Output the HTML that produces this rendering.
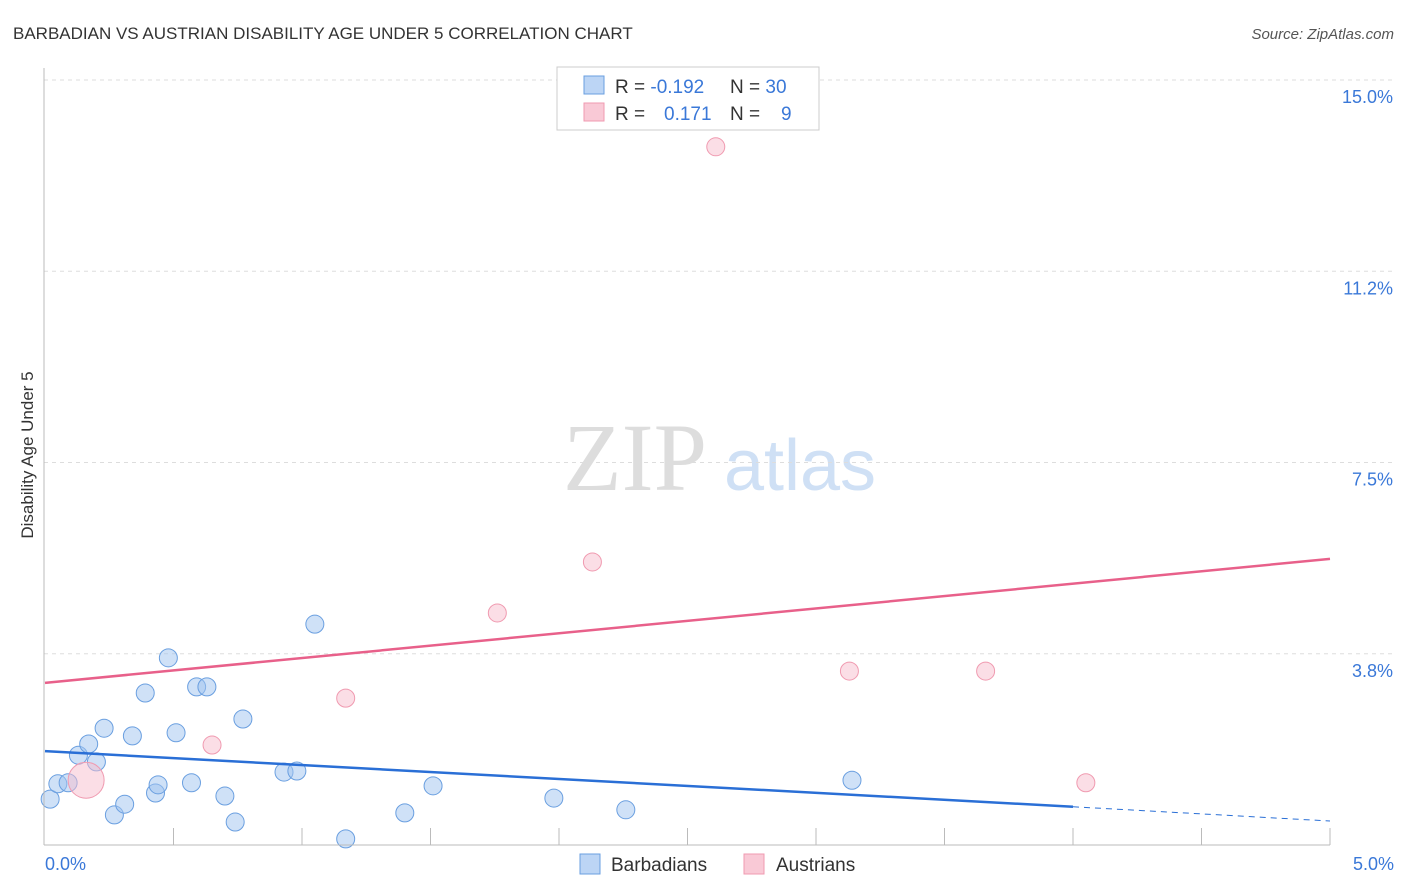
<!DOCTYPE html>
<html><head><meta charset="utf-8"><style>
body{margin:0;background:#fff;font-family:"Liberation Sans",sans-serif}
svg{display:block}
</style></head><body>
<svg width="1406" height="892" id="chart">
<text x="13" y="39" font-size="17" fill="#333">BARBADIAN VS AUSTRIAN DISABILITY AGE UNDER 5 CORRELATION CHART</text>
<text x="1394" y="39" font-size="15" fill="#555" font-style="italic" text-anchor="end">Source: ZipAtlas.com</text>
<text x="33" y="455" font-size="17" fill="#333" text-anchor="middle" transform="rotate(-90 33 455)">Disability Age Under 5</text>
<g><text x="635" y="490" font-size="96" fill="#ddd" font-family="Liberation Serif,serif" text-anchor="middle">ZIP</text><text x="800" y="490" font-size="72" fill="#cfe0f5" text-anchor="middle">atlas</text></g>
<g id="grid"></g><g id="marks"></g>
<line x1="44" y1="68" x2="44" y2="845" stroke="#bbb"/>
<line x1="44" y1="845" x2="1330" y2="845" stroke="#bbb"/>
<text x="45" y="870" font-size="18" fill="#3a78d8">0.0%</text>
<text x="1394" y="870" font-size="18" fill="#3a78d8" text-anchor="end">5.0%</text>
<g>
<rect x="557" y="67" width="262" height="63" fill="#fff" stroke="#ccc"/>
<rect x="584" y="76" width="20" height="18" fill="#bcd5f5" stroke="#6a9fe0"/>
<rect x="584" y="103" width="20" height="18" fill="#f9c9d6" stroke="#f09ab0"/>
<text x="615" y="93" font-size="19" fill="#333">R = <tspan fill="#3a78d8">-0.192</tspan><tspan x="730">N = </tspan><tspan fill="#3a78d8">30</tspan></text>
<text x="615" y="120" font-size="19" fill="#333">R = <tspan x="664" fill="#3a78d8">0.171</tspan><tspan x="730">N = </tspan><tspan x="781" fill="#3a78d8">9</tspan></text>
</g>
<g>
<rect x="580" y="854" width="20" height="20" fill="#bcd5f5" stroke="#6a9fe0"/>
<text x="611" y="871" font-size="19" fill="#333">Barbadians</text>
<rect x="744" y="854" width="20" height="20" fill="#f9c9d6" stroke="#f09ab0"/>
<text x="776" y="871" font-size="19" fill="#333">Austrians</text>
</g>
</svg>
<script>
const yTicks=[15.0,11.25,7.5,3.75];
const yTickLabels=["15.0%","11.2%","7.5%","3.8%"];
const xTicks=[0.5,1,1.5,2,2.5,3,3.5,4,4.5,5];
const blueX=[0.02,0.05,0.09,0.13,0.17,0.20,0.23,0.27,0.31,0.34,0.39,0.43,0.44,0.48,0.51,0.57,0.59,0.63,0.70,0.74,0.77,0.93,0.98,1.05,1.17,1.40,1.51,1.98,2.26,3.14];
const blueY=[0.90,1.20,1.22,1.76,1.98,1.63,2.29,0.59,0.80,2.14,2.98,1.02,1.18,3.67,2.20,1.22,3.10,3.10,0.96,0.45,2.47,1.43,1.45,4.33,0.12,0.63,1.16,0.92,0.69,1.27];
const pinkX=[0.16,0.65,1.17,1.76,2.13,2.61,3.13,3.66,4.05];
const pinkY=[1.27,1.96,2.88,4.55,5.55,13.69,3.41,3.41,1.22];
const pinkR=[18,9,9,9,9,9,9,9,9];
const pinkLine=[3.18,5.61];
const blueLine=[1.84,0.75,0.47];
const sx=v=>45+v*257, sy=v=>845-v*51;
const NS="http://www.w3.org/2000/svg";
const grid=document.getElementById('grid'),marks=document.getElementById('marks'),svg=document.getElementById('chart');
function mk(t,a,p){const e=document.createElementNS(NS,t);for(const k in a)e.setAttribute(k,a[k]);(p||marks).appendChild(e);return e;}
yTicks.forEach((v,i)=>{
 const l=mk('line',{x1:44,x2:1394,y1:sy(v),y2:sy(v),stroke:'#ddd','stroke-dasharray':'4,4'},grid);
 
 
 const t=mk('text',{x:1393,y:sy(v)+23,'font-size':18,fill:'#3a78d8','text-anchor':'end'},svg);
 t.textContent=yTickLabels[i];
 
 
});
xTicks.forEach(v=>{
 const l=mk('line',{x1:sx(v),x2:sx(v),y1:828,y2:845,stroke:'#bbb'},grid);
 
 
});
blueX.forEach((x,i)=>{
 const c=mk('circle',{cx:sx(x),cy:sy(blueY[i]),r:9,fill:'rgba(160,195,240,0.5)',stroke:'#6a9fe0','stroke-width':1});
 
 
});
pinkX.forEach((x,i)=>{
 const c=mk('circle',{cx:sx(x),cy:sy(pinkY[i]),r:pinkR[i],fill:'rgba(248,190,205,0.5)',stroke:'#f09ab0','stroke-width':1});
 
 
});
let l1=mk('line',{x1:sx(0),y1:sy(pinkLine[0]),x2:sx(5),y2:sy(pinkLine[1]),stroke:'#e8608a','stroke-width':2.5});


let l2=mk('line',{x1:sx(0),y1:sy(blueLine[0]),x2:sx(4),y2:sy(blueLine[1]),stroke:'#2a6fd6','stroke-width':2.5});


let l3=mk('line',{x1:sx(4),y1:sy(blueLine[1]),x2:sx(5),y2:sy(blueLine[2]),stroke:'#2a6fd6','stroke-width':1,'stroke-dasharray':'6,5'});


</script>
</body></html>
